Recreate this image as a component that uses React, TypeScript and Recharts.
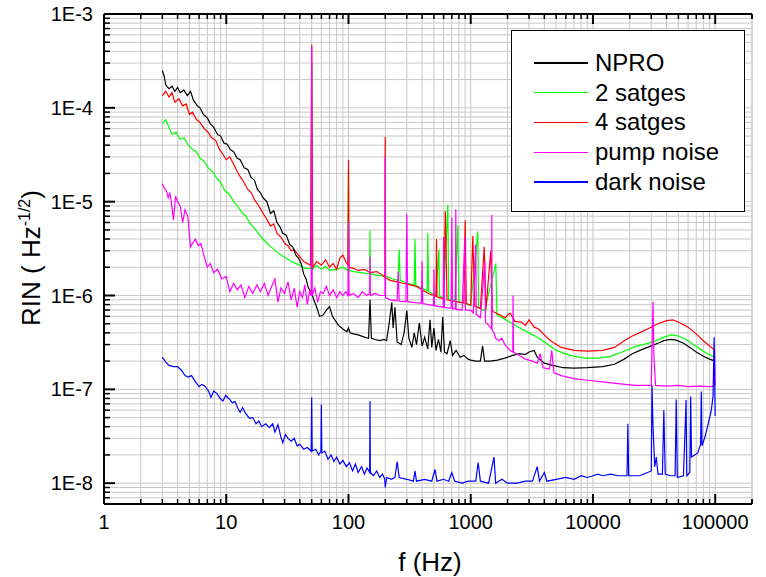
import { LineChart, Line, XAxis, YAxis, CartesianGrid, Legend, ReferenceLine, Label } from 'recharts'

// frequency (Hz), RIN (1/sqrt(Hz))
const npro = [
  [3.0, 2.5e-4], [3.1, 2.2e-4], [3.2, 1.75e-4], [3.4, 1.6e-4], [3.6, 1.7e-4], [3.8, 1.5e-4], [4.0, 1.65e-4],
  [4.2, 1.45e-4], [4.5, 1.55e-4], [4.8, 1.35e-4], [5.1, 1.5e-4], [5.4, 1.2e-4], [5.8, 1.05e-4], [6.1, 1.0e-4],
  [6.5, 8.5e-5], [7.0, 7.8e-5], [7.4, 6.8e-5], [7.9, 6.2e-5], [8.5, 5.2e-5], [9.0, 5.0e-5], [9.6, 4.2e-5],
  [10.2, 4.1e-5], [10.8, 3.6e-5], [11.5, 3.4e-5], [12.3, 2.9e-5], [13, 2.8e-5], [14, 2.3e-5], [15, 2.2e-5],
  [16, 1.8e-5], [17, 1.7e-5], [18, 1.35e-5], [19, 1.25e-5], [20, 1.1e-5], [21.5, 1.0e-5], [23, 7.5e-6],
  [24.5, 8.0e-6], [26, 6.0e-6], [27.5, 5.4e-6], [29, 4.6e-6], [31, 4.4e-6], [33, 3.5e-6], [35, 3.3e-6],
  [37, 2.7e-6], [39, 2.5e-6], [41, 2.2e-6], [43, 1.7e-6], [45, 1.5e-6], [47, 1.2e-6], [49.5, 1.1e-6],
  [52, 9.0e-7], [55, 7.5e-7], [58, 6.0e-7], [62, 6.2e-7], [66, 7.0e-7], [70, 7.6e-7], [74, 6.0e-7],
  [78, 5.4e-7], [83, 4.8e-7], [90, 4.4e-7], [97, 4.1e-7], [100, 4.5e-7], [103, 4.0e-7], [110, 3.9e-7],
  [120, 3.8e-7], [135, 3.6e-7], [146, 3.5e-7], [150, 9.0e-7], [154, 3.5e-7], [165, 3.4e-7], [180, 3.3e-7],
  [195, 3.4e-7], [205, 3.3e-7], [215, 5.0e-7], [226, 8.4e-7], [232, 4.5e-7], [240, 7.5e-7], [250, 3.2e-7],
  [270, 3.0e-7], [285, 4.0e-7], [300, 6.9e-7], [312, 3.5e-7], [330, 2.8e-7], [345, 4.0e-7], [360, 3.0e-7],
  [380, 5.1e-7], [400, 2.9e-7], [420, 3.6e-7], [445, 2.7e-7], [465, 5.5e-7], [480, 2.8e-7], [500, 4.5e-7],
  [520, 2.6e-7], [545, 3.4e-7], [570, 2.5e-7], [590, 5.9e-7], [610, 2.5e-7], [640, 2.4e-7], [680, 3.3e-7],
  [710, 2.3e-7], [760, 2.6e-7], [820, 2.2e-7], [880, 2.3e-7], [950, 2.1e-7], [1000, 2.05e-7], [1100, 2.0e-7],
  [1200, 2.0e-7], [1250, 2.9e-7], [1300, 2.0e-7], [1450, 2.0e-7], [1650, 2.05e-7], [1900, 2.15e-7],
  [2200, 2.3e-7], [2500, 2.4e-7], [2800, 2.35e-7], [3000, 2.5e-7], [3300, 2.6e-7], [3500, 2.2e-7],
  [4000, 1.9e-7], [4700, 1.8e-7], [5700, 1.7e-7], [7000, 1.68e-7], [9000, 1.7e-7], [12000, 1.75e-7],
  [15000, 1.85e-7], [18000, 2.1e-7], [21000, 2.4e-7], [25000, 2.65e-7], [29000, 2.85e-7], [34000, 3.1e-7],
  [38000, 3.3e-7], [43000, 3.4e-7], [48000, 3.35e-7], [55000, 3.1e-7], [62000, 2.8e-7], [70000, 2.5e-7],
  [80000, 2.25e-7], [90000, 2.1e-7], [100000, 2.0e-7],
]

const stages2 = [
  [3.0, 6.8e-5], [3.2, 7.5e-5], [3.4, 6.2e-5], [3.6, 5.2e-5], [3.9, 5.5e-5], [4.2, 4.6e-5], [4.5, 4.8e-5],
  [4.9, 4.0e-5], [5.3, 3.6e-5], [5.7, 3.4e-5], [6.1, 2.9e-5], [6.6, 2.7e-5], [7.1, 2.3e-5], [7.7, 2.1e-5],
  [8.3, 1.8e-5], [9.0, 1.6e-5], [9.8, 1.3e-5], [10.6, 1.2e-5], [11.5, 1.0e-5], [12.5, 8.8e-6], [13.5, 7.6e-6],
  [14.5, 7.0e-6], [15.5, 6.0e-6], [17, 5.2e-6], [18.5, 4.5e-6], [20, 4.0e-6], [22, 3.5e-6], [24, 3.2e-6],
  [26, 2.9e-6], [28, 2.7e-6], [31, 2.5e-6], [34, 2.3e-6], [37, 2.2e-6], [40, 2.1e-6], [44, 1.95e-6],
  [49, 1.95e-6], [50, 3.0e-4], [51, 1.9e-6], [55, 2.1e-6], [60, 1.9e-6], [65, 2.05e-6], [70, 1.85e-6],
  [80, 1.9e-6], [90, 2.0e-6], [99, 1.85e-6], [100, 2.1e-5], [101, 1.85e-6], [110, 1.8e-6], [125, 1.75e-6],
  [149, 1.7e-6], [150, 4.9e-6], [151, 1.7e-6], [170, 1.65e-6], [199, 1.6e-6], [200, 3.0e-5], [201, 1.6e-6],
  [230, 1.5e-6], [255, 1.45e-6], [260, 3.1e-6], [265, 1.45e-6], [300, 1.35e-6], [345, 1.3e-6], [350, 4.0e-6],
  [355, 1.28e-6], [400, 1.2e-6], [440, 1.12e-6], [446, 4.6e-6], [452, 1.1e-6], [520, 1.0e-6], [548, 3.1e-6],
  [556, 9.8e-7], [600, 9.5e-7], [650, 9.3e-6], [660, 9.2e-7], [740, 8.8e-7], [785, 5.6e-6], [800, 8.6e-7],
  [900, 8.2e-7], [1000, 7.8e-7], [1143, 4.8e-6], [1160, 7.4e-7], [1300, 6.9e-7], [1604, 2.2e-6],
  [1640, 6.2e-7], [1900, 5.6e-7], [2200, 5.0e-7], [2600, 4.4e-7], [3000, 4.0e-7], [3500, 3.6e-7],
  [4000, 3.2e-7], [5000, 2.6e-7], [6500, 2.3e-7], [8500, 2.15e-7], [11000, 2.15e-7], [14000, 2.25e-7],
  [18000, 2.55e-7], [22000, 2.85e-7], [27000, 3.05e-7], [32000, 3.25e-7], [38000, 3.6e-7], [44000, 3.8e-7],
  [50000, 3.7e-7], [58000, 3.4e-7], [66000, 3.0e-7], [75000, 2.7e-7], [86000, 2.4e-7], [100000, 2.2e-7],
]

const stages4 = [
  [3.0, 1.35e-4], [3.2, 1.5e-4], [3.4, 1.3e-4], [3.6, 1.45e-4], [3.8, 1.15e-4], [4.1, 1.25e-4], [4.4, 1.05e-4],
  [4.7, 1.1e-4], [5.0, 8.5e-5], [5.3, 9.0e-5], [5.7, 7.5e-5], [6.1, 7.0e-5], [6.6, 6.0e-5], [7.1, 5.5e-5],
  [7.6, 4.8e-5], [8.2, 4.5e-5], [8.8, 3.6e-5], [9.4, 3.2e-5], [10, 2.8e-5], [10.7, 3.0e-5], [11.5, 2.5e-5],
  [12.3, 2.1e-5], [13, 1.85e-5], [14, 1.6e-5], [15, 1.35e-5], [16, 1.25e-5], [17, 1.05e-5], [18.5, 9.0e-6],
  [20, 7.5e-6], [21.5, 6.5e-6], [23, 5.5e-6], [24.5, 5.8e-6], [26, 4.6e-6], [28, 4.2e-6], [30, 3.6e-6],
  [32, 3.4e-6], [34, 3.0e-6], [36, 3.1e-6], [38, 2.8e-6], [40, 2.6e-6], [43, 2.3e-6], [46, 2.2e-6],
  [49, 2.1e-6], [50, 4.7e-4], [51, 2.0e-6], [55, 2.3e-6], [60, 2.1e-6], [65, 2.4e-6], [70, 2.0e-6],
  [75, 2.2e-6], [80, 1.9e-6], [85, 2.5e-6], [90, 2.7e-6], [95, 2.3e-6], [99, 2.1e-6], [100, 2.8e-5],
  [101, 2.0e-6], [110, 1.95e-6], [120, 1.85e-6], [135, 1.9e-6], [150, 1.75e-6], [170, 1.8e-6], [190, 1.65e-6],
  [199, 1.55e-6], [200, 4.9e-5], [201, 1.55e-6], [220, 1.45e-6], [250, 1.4e-6], [280, 1.35e-6], [320, 1.3e-6],
  [360, 1.25e-6], [400, 1.15e-6], [450, 1.05e-6], [520, 9.8e-7], [525, 4.0e-6], [530, 9.7e-7], [600, 9.2e-7],
  [620, 7.9e-6], [640, 9.0e-7], [700, 8.8e-7], [800, 8.5e-7], [880, 8.3e-7], [900, 6.3e-6], [920, 8.2e-7],
  [1000, 7.9e-7], [1040, 4.3e-6], [1080, 7.7e-7], [1200, 7.3e-7], [1290, 3.3e-6], [1330, 7.0e-7],
  [1460, 3.0e-6], [1500, 6.8e-7], [1700, 6.3e-7], [1900, 5.8e-7], [2100, 6.5e-7], [2300, 5.3e-7],
  [2600, 5.2e-7], [2800, 4.8e-7], [3000, 5.5e-7], [3300, 4.6e-7], [3600, 4.4e-7], [4000, 3.8e-7],
  [4500, 3.3e-7], [5500, 2.8e-7], [7000, 2.6e-7], [9000, 2.55e-7], [12000, 2.6e-7], [15000, 2.8e-7],
  [18000, 3.3e-7], [21000, 3.7e-7], [25000, 4.1e-7], [29000, 4.5e-7], [34000, 5.0e-7], [40000, 5.4e-7],
  [45000, 5.5e-7], [52000, 5.1e-7], [60000, 4.6e-7], [70000, 3.9e-7], [80000, 3.3e-7], [90000, 2.9e-7],
  [100000, 2.6e-7],
]

const pump = [
  [3.0, 1.55e-5], [3.1, 1.4e-5], [3.25, 1.3e-5], [3.35, 1.1e-5], [3.45, 1.25e-5], [3.55, 1.0e-5], [3.7, 6.4e-6],
  [3.85, 1.15e-5], [4.0, 1.0e-5], [4.2, 9.0e-6], [4.4, 6.0e-6], [4.6, 8.2e-6], [4.85, 7.0e-6], [5.1, 3.3e-6],
  [5.3, 3.6e-6], [5.6, 4.0e-6], [5.9, 3.4e-6], [6.2, 3.6e-6], [6.6, 2.6e-6], [7.0, 2.0e-6], [7.4, 2.2e-6],
  [7.9, 1.75e-6], [8.5, 1.9e-6], [9.2, 1.5e-6], [10, 1.6e-6], [10.7, 1.1e-6], [11.5, 1.35e-6], [12.3, 1.15e-6],
  [13.2, 1.3e-6], [14.2, 9.5e-7], [15.3, 1.25e-6], [16.5, 1.05e-6], [17.8, 1.3e-6], [19, 1.1e-6],
  [20.5, 1.35e-6], [22, 1.0e-6], [23.5, 1.25e-6], [25, 1.5e-6], [26.5, 8.5e-7], [28, 1.2e-6], [30, 1.05e-6],
  [32, 1.4e-6], [34, 9.0e-7], [36, 1.2e-6], [38, 7.5e-7], [40, 1.1e-6], [42, 9.5e-7], [44, 1.3e-6],
  [46, 8.0e-7], [48, 1.1e-6], [49.5, 1.0e-6], [50, 4.5e-4], [50.5, 1.0e-6], [53, 1.2e-6], [56, 8.5e-7],
  [59, 1.1e-6], [62, 1.05e-6], [66, 1.25e-6], [70, 1.0e-6], [75, 1.15e-6], [80, 9.5e-7], [85, 1.1e-6],
  [90, 1.0e-6], [95, 1.1e-6], [99, 1.0e-6], [100, 6.1e-6], [101, 1.0e-6], [110, 1.05e-6], [120, 9.5e-7],
  [130, 1.1e-6], [140, 1.0e-6], [149, 1.05e-6], [150, 2.6e-6], [151, 1.0e-6], [165, 1.05e-6], [180, 1.0e-6],
  [199, 1.0e-6], [200, 3.0e-5], [201, 9.5e-7], [220, 9.0e-7], [250, 8.8e-7], [255, 1.8e-6], [260, 8.7e-7],
  [295, 8.6e-7], [300, 7.4e-6], [305, 8.6e-7], [350, 8.4e-7], [395, 8.3e-7], [400, 2.3e-6], [405, 8.2e-7],
  [450, 8.0e-7], [497, 7.8e-7], [500, 1.9e-6], [505, 7.8e-7], [560, 7.6e-7], [595, 7.5e-7], [600, 4.2e-6],
  [610, 7.5e-7], [690, 7.3e-7], [700, 6.8e-6], [710, 7.2e-7], [750, 7.2e-7], [755, 8.3e-6], [760, 7.1e-7],
  [850, 7.0e-7], [895, 4.2e-6], [905, 7.0e-7], [1000, 7.0e-7], [1050, 6.5e-7], [1100, 3.5e-6], [1110, 6.3e-7],
  [1200, 5.8e-7], [1305, 2.3e-6], [1320, 5.2e-7], [1400, 4.8e-7], [1480, 4.4e-7], [1487, 7.2e-6],
  [1495, 4.3e-7], [1550, 4.0e-7], [1600, 3.5e-7], [1700, 3.3e-7], [1800, 3.5e-7], [1900, 3.0e-7],
  [2100, 2.6e-7], [2210, 2.5e-7], [2220, 1.0e-6], [2240, 2.5e-7], [2500, 2.3e-7], [2800, 2.1e-7],
  [3200, 2.0e-7], [3500, 1.9e-7], [3700, 2.4e-7], [3900, 1.7e-7], [4400, 1.65e-7], [4600, 2.6e-7],
  [4800, 1.5e-7], [5500, 1.4e-7], [7000, 1.3e-7], [9000, 1.25e-7], [12000, 1.2e-7], [16000, 1.15e-7],
  [22000, 1.1e-7], [30000, 1.1e-7], [31000, 8.6e-7], [31500, 2.3e-7], [32500, 1.1e-7], [40000, 1.08e-7],
  [50000, 1.1e-7], [60000, 1.07e-7], [75000, 1.08e-7], [90000, 1.07e-7], [98000, 1.08e-7], [99000, 2.6e-7],
  [100000, 1.1e-7],
]

const dark = [
  [3.0, 2.2e-7], [3.2, 1.95e-7], [3.4, 1.8e-7], [3.7, 1.75e-7], [4.0, 1.75e-7], [4.3, 1.6e-7], [4.6, 1.4e-7],
  [4.9, 1.35e-7], [5.2, 1.4e-7], [5.6, 1.2e-7], [6.0, 1.07e-7], [6.3, 1.13e-7], [6.7, 1.08e-7], [7.2, 9.5e-8],
  [7.5, 8.2e-8], [7.9, 9.6e-8], [8.4, 9.0e-8], [8.9, 8.0e-8], [9.4, 7.5e-8], [9.9, 8.6e-8], [10.5, 8.0e-8],
  [11.2, 7.2e-8], [11.8, 7.4e-8], [12.5, 6.2e-8], [13, 5.7e-8], [13.6, 6.4e-8], [14.3, 5.6e-8], [15.5, 4.9e-8],
  [16.5, 5.0e-8], [17.5, 4.3e-8], [18.5, 4.6e-8], [19.5, 4.0e-8], [21, 4.3e-8], [22.5, 3.9e-8], [24, 4.3e-8],
  [25, 3.5e-8], [26.5, 4.2e-8], [28, 3.1e-8], [29, 2.7e-8], [30.5, 3.3e-8], [32, 3.0e-8], [34, 2.8e-8],
  [36, 3.0e-8], [38, 2.5e-8], [40, 2.6e-8], [43, 2.3e-8], [46, 2.4e-8], [49.5, 2.2e-8], [50, 8.2e-8],
  [50.5, 2.2e-8], [54, 2.3e-8], [57, 2.0e-8], [59.5, 2.2e-8], [60, 6.9e-8], [60.5, 2.1e-8], [64, 2.2e-8],
  [68, 1.8e-8], [72, 2.0e-8], [76, 1.7e-8], [80, 1.9e-8], [85, 1.6e-8], [90, 1.75e-8], [96, 1.5e-8],
  [102, 1.65e-8], [108, 1.35e-8], [114, 1.6e-8], [120, 1.3e-8], [128, 1.5e-8], [135, 1.25e-8], [142, 1.45e-8],
  [149, 1.3e-8], [150, 7.5e-8], [151, 1.3e-8], [160, 1.2e-8], [170, 1.35e-8], [180, 1.15e-8], [190, 1.25e-8],
  [198, 1.1e-8], [200, 9.0e-9], [205, 1.15e-8], [225, 1.1e-8], [240, 1.15e-8], [250, 1.7e-8], [260, 1.15e-8],
  [300, 1.1e-8], [340, 1.05e-8], [350, 1.35e-8], [360, 1.05e-8], [420, 1.1e-8], [480, 1.05e-8],
  [510, 1.4e-8], [530, 1.05e-8], [600, 1.1e-8], [660, 1.05e-8], [700, 1.3e-8], [740, 1.05e-8], [850, 1.0e-8],
  [950, 1.05e-8], [1100, 1.05e-8], [1150, 1.66e-8], [1200, 1.05e-8], [1400, 1.0e-8], [1550, 1.9e-8],
  [1600, 1.0e-8], [1800, 1.1e-8], [2000, 1.0e-8], [2400, 1.0e-8], [2800, 1.05e-8], [3200, 1.05e-8],
  [3500, 1.5e-8], [3650, 1.05e-8], [4000, 1.3e-8], [4200, 1.05e-8], [5000, 1.1e-8], [6000, 1.15e-8],
  [7000, 1.1e-8], [8000, 1.2e-8], [9000, 1.15e-8], [10000, 1.2e-8], [11000, 1.25e-8], [12000, 1.2e-8],
  [14000, 1.25e-8], [16000, 1.2e-8], [19000, 1.2e-8], [19300, 4.3e-8], [19600, 1.2e-8], [24000, 1.2e-8],
  [28000, 1.3e-8], [30000, 1.35e-8], [30400, 1.1e-7], [31000, 4.0e-8], [32000, 1.5e-8], [33000, 1.9e-8],
  [34000, 1.25e-8], [37000, 1.25e-8], [38000, 6.0e-8], [39000, 1.25e-8], [43000, 1.2e-8], [47000, 1.2e-8],
  [48000, 7.8e-8], [49000, 1.15e-8], [55000, 1.2e-8], [57800, 7.7e-8], [58500, 1.2e-8], [62000, 1.3e-8],
  [63000, 8.4e-8], [64000, 1.9e-8], [68000, 2.0e-8], [72000, 2.1e-8], [76000, 2.6e-8], [77000, 9.5e-8],
  [78000, 2.5e-8], [83000, 3.2e-8], [88000, 4.4e-8], [93000, 6.0e-8], [96000, 8.4e-8], [98000, 3.6e-7],
  [100000, 5.2e-8],
]

const xMajor = [1, 10, 100, 1000, 10000, 100000]
const yMajor = [1e-8, 1e-7, 1e-6, 1e-5, 1e-4, 1e-3]
const yMajorLabels = ['1E-8', '1E-7', '1E-6', '1E-5', '1E-4', '1E-3']
const mults = [1, 2, 3, 4, 5, 6, 7, 8, 9]

const xTicks = [...xMajor.flatMap((d) => mults.map((m) => m * d)), 200000]
const yTicks = [6e-9, 7e-9, 8e-9, 9e-9, ...yMajor.slice(0, 5).flatMap((d) => mults.map((m) => m * d)), 1e-3]

const series = [
  { name: 'NPRO', color: '#000000', pts: npro },
  { name: '2 satges', color: '#00ff00', pts: stages2 },
  { name: '4 satges', color: '#ff0000', pts: stages4 },
  { name: 'pump noise', color: '#ff00ff', pts: pump },
  { name: 'dark noise', color: '#0000ff', pts: dark },
]
const drawOrder = [1, 2, 0, 3, 4]

const PLOT_LEFT = 104
const PLOT_TOP = 14
const PLOT_BOTTOM = 504
const FONT = '"Liberation Sans", Arial, sans-serif'

const isMajor = (v: number) => Math.abs(Math.log10(v) - Math.round(Math.log10(v))) < 1e-6

function XTick({ x, payload }: any) {
  const v = payload.value
  const major = isMajor(v)
  const len = major ? 10 : 5
  return (
    <g>
      <line x1={x} x2={x} y1={PLOT_BOTTOM} y2={PLOT_BOTTOM - len} stroke="#000" strokeWidth={major ? 2 : 1.5} />
      <line x1={x} x2={x} y1={PLOT_TOP} y2={PLOT_TOP + len} stroke="#000" strokeWidth={major ? 2 : 1.5} />
      {major && (
        <text x={x} y={PLOT_BOTTOM + 25} textAnchor="middle" fontSize={20} fontFamily={FONT} fill="#000">
          {String(Math.round(v))}
        </text>
      )}
    </g>
  )
}

function YTick({ y, payload }: any) {
  const v = payload.value
  const idx = yMajor.findIndex((m) => Math.abs(Math.log10(m) - Math.log10(v)) < 1e-6)
  const major = idx >= 0
  const len = major ? 11 : 6
  return (
    <g>
      <line x1={PLOT_LEFT} x2={PLOT_LEFT + len} y1={y} y2={y} stroke="#000" strokeWidth={major ? 2 : 1.5} />
      {major && (
        <text x={PLOT_LEFT - 11} y={y + 7} textAnchor="end" fontSize={20} fontFamily={FONT} fill="#000">
          {yMajorLabels[idx]}
        </text>
      )}
    </g>
  )
}

function LegendBox() {
  return (
    <div
      style={{
        width: 234,
        height: 182,
        boxSizing: 'border-box',
        border: '1.5px solid #000',
        background: '#fff',
        fontFamily: FONT,
        fontSize: 24,
        paddingTop: 17,
      }}
    >
      {series.map((s) => (
        <div key={s.name} style={{ display: 'flex', alignItems: 'center', height: 29.8 }}>
          <div style={{ marginLeft: 22, width: 54, height: 1.5, background: s.color }} />
          <span style={{ marginLeft: 7, color: '#000', lineHeight: '28px' }}>{s.name}</span>
        </div>
      ))}
    </div>
  )
}

export default function App() {
  return (
    <div style={{ position: 'absolute', left: 0, top: 0, background: '#fff' }}>
      <LineChart width={766} height={577} margin={{ top: 14, right: 14, left: 0, bottom: 0 }}>
        <CartesianGrid stroke="#c8c8c8" strokeWidth={1} horizontalValues={yTicks} verticalValues={xTicks} />
        <XAxis
          dataKey="f"
          type="number"
          scale="log"
          domain={[1, 200000]}
          allowDataOverflow
          ticks={xTicks}
          interval={0}
          height={73}
          tickLine={false}
          tick={<XTick />}
          axisLine={{ stroke: '#000', strokeWidth: 2 }}
        >
          <Label
            content={() => (
              <text x={430} y={571} textAnchor="middle" fontSize={26} fontFamily={FONT} fill="#000">
                f (Hz)
              </text>
            )}
          />
        </XAxis>
        <YAxis
          dataKey="v"
          type="number"
          scale="log"
          domain={[6e-9, 1e-3]}
          allowDataOverflow
          ticks={yTicks}
          interval={0}
          width={104}
          tickLine={false}
          tick={<YTick />}
          axisLine={{ stroke: '#000', strokeWidth: 2 }}
        >
          <Label
            content={() => (
              <text
                x={40}
                y={258}
                transform="rotate(-90 40 258)"
                textAnchor="middle"
                fontSize={26}
                fontFamily={FONT}
                fill="#000"
              >
                RIN ( Hz
                <tspan dy={-10} fontSize={16}>
                  -1/2
                </tspan>
                <tspan dy={10}>)</tspan>
              </text>
            )}
          />
        </YAxis>
        <ReferenceLine y={1e-3} stroke="#000" strokeWidth={2} />
        {drawOrder.map((i) => {
          const s = series[i]
          return (
            <Line
              key={s.name}
              name={s.name}
              data={s.pts.map(([f, v]) => ({ f, v }))}
              dataKey="v"
              type="linear"
              stroke={s.color}
              strokeWidth={1.2}
              dot={false}
              activeDot={false}
              isAnimationActive={false}
            />
          )
        })}
        <Legend
          layout="horizontal"
          verticalAlign="middle"
          align="center"
          content={() => <LegendBox />}
          wrapperStyle={{ position: 'absolute', left: 511, top: 30, width: 234, height: 182 }}
        />
      </LineChart>
    </div>
  )
}
